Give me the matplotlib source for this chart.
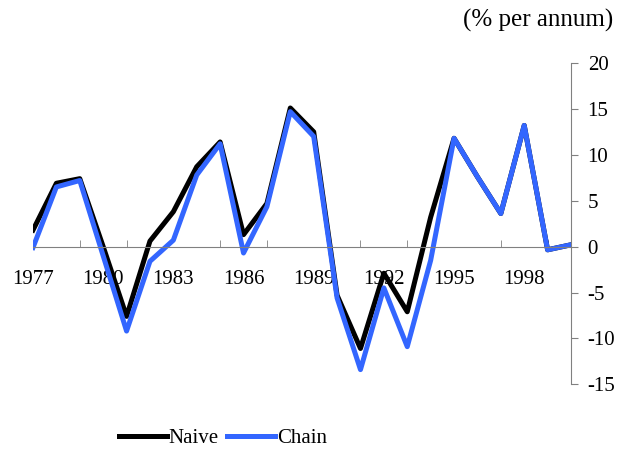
import matplotlib.pyplot as plt

plt.rcParams['font.family'] = ['Liberation Serif', 'DejaVu Serif']
plt.rcParams['axes.unicode_minus'] = False

# annual growth, % per annum
years = list(range(1977, 2001))
naive = [1.8, 6.9, 7.4, 0.0, -7.6, 0.6, 3.8, 8.7, 11.4, 1.3, 4.7, 15.1,
         12.5, -5.3, -11.1, -2.9, -7.1, 3.2, 11.8, 7.6, 3.6, 13.2, -0.35, 0.2]
chain = [-0.1, 6.5, 7.2, -1.0, -9.2, -1.6, 0.7, 7.8, 11.2, -0.7, 4.35, 14.7,
         12.0, -5.6, -13.4, -4.5, -10.9, -1.5, 11.8, 7.6, 3.6, 13.2, -0.35, 0.2]
label_years = list(range(1977, 2000, 3))
tick_years = list(range(1977, 2000, 2))
y_ticks = [-15, -10, -5, 0, 5, 10, 15, 20]

fig = plt.figure(figsize=(6.31, 4.5), dpi=100)
ax = fig.add_axes([33/631, 1 - 384.3/450, (571 - 33)/631, (384.3 - 63)/450])

ax.plot(years, naive, color='black', lw=3.6, label='Naive')
ax.plot(years, chain, color='#3366FF', lw=3.6, label='Chain')

ax.set_xlim(1977, 2000)
ax.set_ylim(-15, 20)

# spines: x axis through zero, y axis on the right
for s in ['left', 'top']:
    ax.spines[s].set_visible(False)
ax.spines['bottom'].set_position(('data', 0))
ax.spines['bottom'].set_color('#808080')
ax.spines['right'].set_color('#808080')
ax.yaxis.tick_right()

ax.set_xticks(label_years)
ax.set_xticklabels([str(y) for y in label_years])
ax.set_xticks(tick_years, minor=True)
ax.tick_params(axis='x', which='major', length=0, pad=17, labelsize=15)
ax.tick_params(axis='x', which='minor', direction='in', length=5, color='#808080')

ax.set_yticks(y_ticks)
ax.tick_params(axis='y', direction='out', length=5, pad=7, labelsize=15,
               color='#808080')

fig.text(613/631, 1 - 20/450, '(% per annum)', ha='right', va='center', fontsize=18)

fig.legend(loc='center', bbox_to_anchor=(223/631, 1 - 438/450), ncol=2,
           frameon=False, fontsize=15, handlelength=2.3, handletextpad=0.1,
           columnspacing=0.4)

fig.savefig('out.png', dpi=100)
